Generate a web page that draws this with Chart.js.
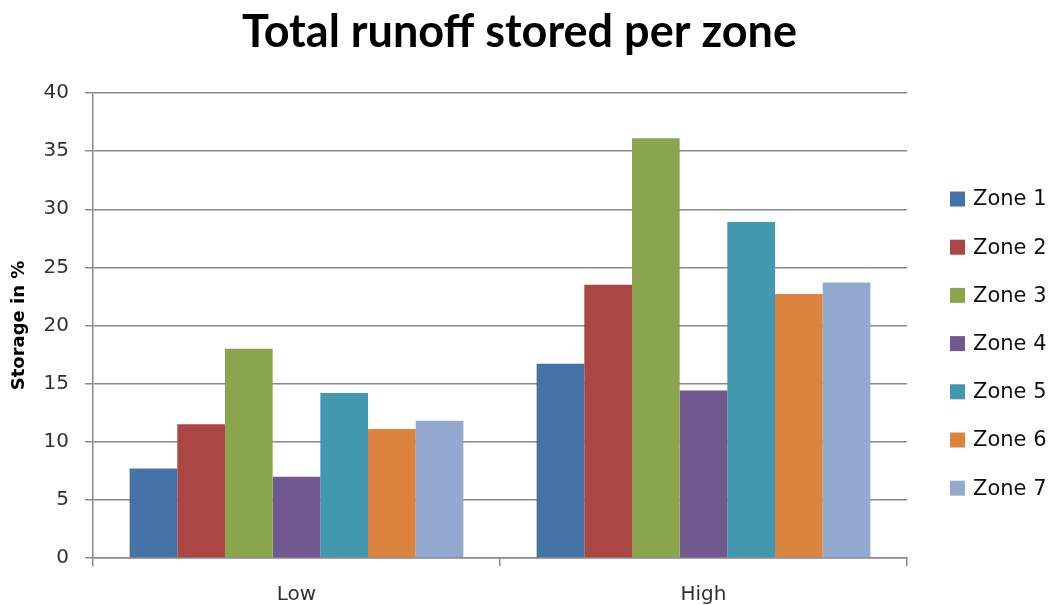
<!DOCTYPE html>
<html>
<head>
<meta charset="utf-8">
<script src="https://cdn.jsdelivr.net/npm/chart.js@4.4.1/dist/chart.umd.min.js"></script>
<style>
  html, body { margin: 0; padding: 0; background: #ffffff; }
  #wrap { width: 1048px; height: 605px; }
</style>
</head>
<body>
<div id="wrap"><canvas id="c" width="1048" height="605"></canvas></div>
<script>
// Scenario categories along the x axis
const categories = ['Low', 'High'];

// Share of total runoff stored (%) for each zone, Low then High
const zone1 = [7.7, 16.7];
const zone2 = [11.5, 23.5];
const zone3 = [18.0, 36.1];
const zone4 = [7.0, 14.4];
const zone5 = [14.2, 28.9];
const zone6 = [11.1, 22.7];
const zone7 = [11.8, 23.7];

const zoneNames = ['Zone 1', 'Zone 2', 'Zone 3', 'Zone 4', 'Zone 5', 'Zone 6', 'Zone 7'];
const zoneValues = [zone1, zone2, zone3, zone4, zone5, zone6, zone7];
const zoneColors = ['#4572A7', '#AA4643', '#89A54E', '#71588F', '#4198AF', '#DB843D', '#93A9CF'];

// Y axis tick values
const yTicks = [0, 5, 10, 15, 20, 25, 30, 35, 40];

const TITLE_FONT = 'Lato, "Open Sans", sans-serif';
const FONT = '"DejaVu Sans", Verdana, sans-serif';
const GRID = '#8a8a8a';
const TEXT = '#333333';

// Vertical legend that takes its own slot on the right side of the layout
const sideLegend = {
  id: 'sideLegend',
  beforeInit(chart) {
    const box = {
      position: 'right',
      weight: 1000,
      fullSize: false,
      options: {},
      width: 0, height: 0, left: 0, top: 0, right: 0, bottom: 0,
      isHorizontal() { return false; },
      update(maxWidth, maxHeight) {
        const o = chart.options.plugins.sideLegend;
        this.width = o.width;
        this.height = maxHeight;
      },
      draw() {
        const o = chart.options.plugins.sideLegend;
        const ctx = chart.ctx;
        ctx.save();
        ctx.font = o.font;
        ctx.textBaseline = 'middle';
        ctx.textAlign = 'left';
        const x = this.left + o.inset;
        chart.data.datasets.forEach((ds, i) => {
          const y = o.firstRow + i * o.step;
          ctx.fillStyle = ds.backgroundColor;
          ctx.fillRect(x, y - o.box / 2, o.box, o.box);
          ctx.fillStyle = o.color;
          ctx.fillText(ds.label, x + o.box + o.gap, y + 1);
        });
        ctx.restore();
      }
    };
    Chart.layouts.addBox(chart, box);
  }
};

new Chart(document.getElementById('c'), {
  type: 'bar',
  data: {
    labels: categories,
    datasets: zoneNames.map((name, i) => ({
      label: name,
      data: zoneValues[i],
      backgroundColor: zoneColors[i],
      borderWidth: 0,
      categoryPercentage: 0.82,
      barPercentage: 1.0
    }))
  },
  options: {
    responsive: false,
    animation: false,
    devicePixelRatio: 1,
    layout: { padding: { left: 0, right: 9, top: 0, bottom: 0 } },
    plugins: {
      legend: { display: false },
      tooltip: { enabled: false },
      title: {
        display: true,
        text: 'Total runoff stored per zone',
        color: '#000000',
        font: { family: TITLE_FONT, size: 45, weight: 'bold' },
        padding: { top: 5, bottom: 34 }
      },
      sideLegend: {
        width: 132, inset: 43, firstRow: 199, step: 48.2, box: 15, gap: 8,
        font: '21px ' + FONT, color: '#111111'
      }
    },
    scales: {
      x: {
        offset: true,
        grid: {
          offset: true,
          drawOnChartArea: false,
          drawTicks: true,
          tickLength: 8,
          color: GRID,
          lineWidth: 1.5
        },
        border: { display: true, color: GRID, width: 1.5 },
        ticks: {
          color: TEXT,
          font: { family: FONT, size: 20 },
          padding: 17
        },
        afterFit(scale) { scale.height = 47; }
      },
      y: {
        min: 0,
        max: 40,
        afterBuildTicks(scale) { scale.ticks = yTicks.map(v => ({ value: v })); },
        grid: {
          color: GRID,
          lineWidth: 1.5,
          tickLength: 8,
          drawTicks: true
        },
        border: { display: true, color: GRID, width: 1.5 },
        ticks: {
          color: TEXT,
          font: { family: FONT, size: 20 },
          padding: 16
        },
        title: {
          display: true,
          text: 'Storage in %',
          color: '#000000',
          font: { family: FONT, size: 18, weight: 'bold' },
          padding: { top: 9, bottom: 0 }
        },
        afterFit(scale) { scale.width = 93; }
      }
    }
  },
  plugins: [sideLegend]
});
</script>
</body>
</html>
